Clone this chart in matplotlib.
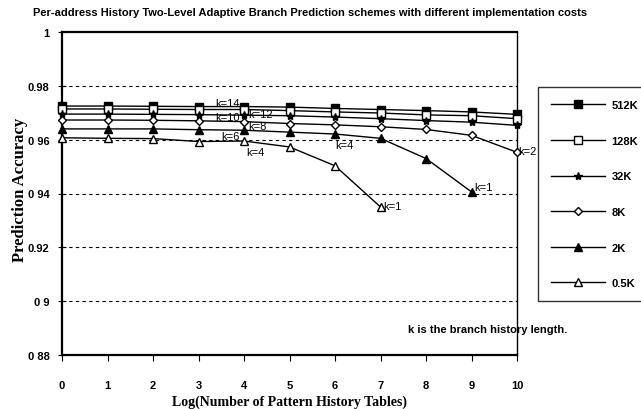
import matplotlib
matplotlib.use("Agg")
import matplotlib.pyplot as plt

# log2(number of pattern history tables)
x = list(range(11))

acc_512k = [0.9725, 0.9725, 0.9724, 0.9723, 0.9723, 0.9721, 0.9716, 0.9712, 0.9708, 0.9703, 0.9694]
acc_128k = [0.9714, 0.9714, 0.9713, 0.9712, 0.9712, 0.9708, 0.9703, 0.9699, 0.9692, 0.9689, 0.9678]
acc_32k = [0.9695, 0.9695, 0.9694, 0.9693, 0.9691, 0.9689, 0.9684, 0.9678, 0.9671, 0.9665, 0.9653]
acc_8k = [0.9673, 0.9673, 0.9672, 0.9670, 0.9667, 0.9660, 0.9655, 0.9648, 0.9638, 0.9616, 0.9553]
acc_2k = [0.9640, 0.9640, 0.9640, 0.9637, 0.9635, 0.9628, 0.9621, 0.9605, 0.9530, 0.9406]
acc_05k = [0.9607, 0.9605, 0.9604, 0.9593, 0.9595, 0.9573, 0.9503, 0.9350]

series = [
    ("512K", acc_512k, "s", "black"),
    ("128K", acc_128k, "s", "white"),
    ("32K", acc_32k, "*", "black"),
    ("8K", acc_8k, "D", "white"),
    ("2K", acc_2k, "^", "black"),
    ("0.5K", acc_05k, "^", "white"),
]

# history length annotations (text, x, y)
k_notes = [
    ("k=14", 3.9, 0.9735, "right"),
    ("k=12", 4.1, 0.9696, "left"),
    ("k=10", 3.9, 0.9684, "right"),
    ("k=8", 4.1, 0.9651, "left"),
    ("k=6", 3.9, 0.9613, "right"),
    ("k=4", 4.05, 0.9553, "left"),
    ("k=4", 6.0, 0.9580, "left"),
    ("k=1", 7.05, 0.9352, "left"),
    ("k=1", 9.05, 0.9424, "left"),
    ("k=2", 10.02, 0.9557, "left"),
]

yticks = [0.88, 0.90, 0.92, 0.94, 0.96, 0.98, 1.0]
ytick_labels = ["0 88", "0 9", "0.92", "0 94", "0 96", "0.98", "1"]

sans = ["Liberation Sans", "DejaVu Sans"]
serif = ["Liberation Serif", "DejaVu Serif"]

fig = plt.figure(figsize=(6.41, 4.10), dpi=100)
ax = fig.add_axes([62 / 641, 1 - 356 / 410, (517 - 62) / 641, (356 - 33) / 410])

for y in yticks[1:-1]:
    ax.axhline(y, color="black", lw=0.8, ls=(0, (3, 3)), zorder=1)

for name, vals, mk, fc in series:
    ms = 6 if mk == "*" else (4.5 if mk == "D" else 5.5)
    ax.plot(x[: len(vals)], vals, color="black", lw=1.0, marker=mk, ms=ms,
            mfc=fc, mec="black", mew=1.0, label=name, clip_on=False, zorder=3)

for txt, xx, yy, ha in k_notes:
    ax.text(xx, yy, txt, ha=ha, va="center", fontsize=8, family=sans, zorder=4)

ax.text(7.6, 0.8895, "k is the branch history length.", ha="left", va="center",
        fontsize=8, family=sans, weight="bold")

ax.set_xlim(0, 10)
ax.set_ylim(0.88, 1.0)
ax.set_xticks(x)
ax.set_xticklabels([str(v) for v in x], family=sans, weight="bold", fontsize=8)
ax.set_yticks(yticks)
ax.set_yticklabels(ytick_labels, family=sans, weight="bold", fontsize=8)
ax.tick_params(axis="x", direction="out", length=4, pad=14, width=0.8)
ax.tick_params(axis="y", direction="inout", length=6, pad=6, width=0.8)
for side in ["left", "bottom", "top"]:
    ax.spines[side].set_linewidth(1.6)
ax.spines["right"].set_linewidth(1.0)

leg = ax.legend(loc="upper left", bbox_to_anchor=(538 / 641, 1 - 88 / 410),
                bbox_transform=fig.transFigure, frameon=True, fancybox=False,
                edgecolor="black", handlelength=4.8, handletextpad=0.6,
                labelspacing=2.3, borderpad=1.2, borderaxespad=0,
                prop={"family": sans, "weight": "bold", "size": 8})
leg.get_frame().set_linewidth(1.0)

fig.text(310 / 641, 1 - 13 / 410,
         "Per-address History Two-Level Adaptive Branch Prediction schemes with different implementation costs",
         ha="center", va="center", fontsize=8, family=sans, weight="bold")
fig.text(20 / 641, 1 - 190 / 410, "Prediction Accuracy", rotation=90, ha="center",
         va="center", fontsize=12, family=serif, weight="bold")
fig.text(290 / 641, 1 - 402 / 410, "Log(Number of Pattern History Tables)",
         ha="center", va="center", fontsize=10, family=serif, weight="bold")

fig.savefig("out.png", dpi=100)
